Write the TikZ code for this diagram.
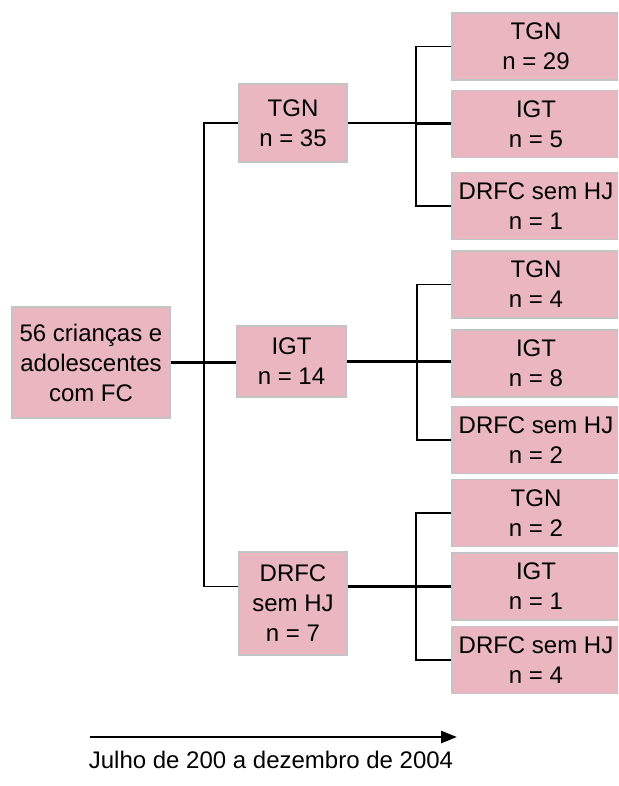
\documentclass[tikz,border=0pt]{standalone}
\usepackage{fontspec}
\setmainfont{Liberation Sans}
\usetikzlibrary{arrows.meta, positioning, calc}
\definecolor{boxpink}{HTML}{EAB6BF}
\definecolor{boxedge}{HTML}{C4C4C4}

\begin{document}
\begin{tikzpicture}[
  x=1pt, y=-1pt,
  >={Triangle[length=16pt, width=12pt]},
  every node/.style={text=black, font=\fontsize{24}{30}\selectfont, align=center},
  group/.style={fill=boxpink, draw=boxedge, line width=1.5pt, inner sep=0pt},
  leaf/.style={group, minimum width=168pt, minimum height=67pt},
  link/.style={black, line width=1.6pt},
  mainlink/.style={black, line width=2.6pt},
]

% Canvas
\useasboundingbox (0,0) rectangle (618,786);
\clip (0,0) rectangle (618,786);

% Root
\node[group, minimum width=158pt, minimum height=111pt] (root) at (91,362.5)
  {56 crianças e\\adolescentes\\com FC};

% First split
\node[group, minimum width=108pt, minimum height=78pt]  (tgn)  at (293,123)   {TGN\\n = 35};
\node[group, minimum width=109pt, minimum height=71pt]  (igt)  at (291.5,361.5) {IGT\\n = 14};
\node[group, minimum width=108pt, minimum height=103pt] (drfc) at (293,603.5) {DRFC\\sem HJ\\n = 7};

% Second split -- from TGN
\node[leaf] (tgnA)  at (536,46.5) {TGN\\n = 29};
\node[leaf] (igtA)  at (536,124)  {IGT\\n = 5};
\node[leaf] (drfcA) at (536,206)  {DRFC sem HJ\\n = 1};

% Second split -- from IGT
\node[leaf] (tgnB)  at (536,284.5) {TGN\\n = 4};
\node[leaf] (igtB)  at (536,363.5) {IGT\\n = 8};
\node[leaf] (drfcB) at (536,440)   {DRFC sem HJ\\n = 2};

% Second split -- from DRFC
\node[leaf] (tgnC)  at (536,513)   {TGN\\n = 2};
\node[leaf] (igtC)  at (536,586.5) {IGT\\n = 1};
\node[leaf] (drfcC) at (536,660)   {DRFC sem HJ\\n = 4};

% Trunk from the root
\draw[link] (tgn.west) -- ++(-34,0) |- (drfc.west |- igtC.west);
\draw[mainlink] (root.east) -- (root.east -| igt.west);

% Brackets to the right column
\draw[link] (tgnA.west) -- ++(-35,0) |- (drfcA.west);
\draw[link] (tgn.east) -- (tgn.east -| igtA.west);
\draw[mainlink] (igtA.west) -- ++(-34,0);

\draw[link] (tgnB.west) -- ++(-34,0) |- (drfcB.west);
\draw[mainlink] (igt.east) -- (igt.east -| igtB.west);

\draw[link] (tgnC.west) -- ++(-35,0) |- (drfcC.west);
\draw[mainlink] (drfc.east |- igtC.west) -- (igtC.west);

% Time axis
\coordinate (tstart) at (90,737);
\coordinate (tend)   at (457,737);
\draw[mainlink, ->] (tstart) -- (tend);
\node[anchor=base] (period) at (271,768) {Julho de 200 a dezembro de 2004};

\end{tikzpicture}
\end{document}
